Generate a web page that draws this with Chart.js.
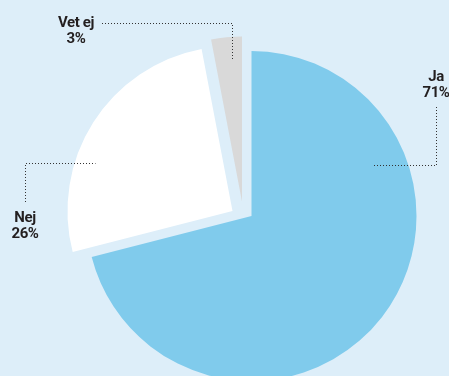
<!DOCTYPE html>
<html>
<head>
<meta charset="utf-8">
<script src="https://cdn.jsdelivr.net/npm/chart.js@4/dist/chart.umd.min.js"></script>
<style>
    html, body { margin: 0; padding: 0; background: #ddeef9; overflow: hidden; }
    #wrap { width: 449px; height: 376px; }
</style>
</head>
<body>
<div id="wrap"><canvas id="pieCanvas" width="449" height="376"></canvas></div>
<script>
// data
var categories = ['Ja', 'Nej', 'Vet ej'];
var values = [71, 26, 3];

// styles
var sliceColors = ['#80cbec', '#ffffff', '#d9d9d9'];
var sliceShift = [[0, 0], [-19, -5], [-9.5, -14.5]]; // exploded slices
// where each label sits and where its leader ends inside the slice
var labelLayout = [
    { textX: 436, textY: 81, elbow: 'vertical', lineTop: 107, t: 0.263, r: 0.80 },
    { textX: 25, textY: 222, elbow: 'vertical', lineTop: 202, t: 0.36, r: 0.88 },
    { textX: 76, textY: 27, elbow: 'horizontal', lineStart: 102, lineY: 23.5, t: 0.62, r: 0.86 }
];

var shiftPlugin = {
    id: 'sliceShift',
    afterDatasetsUpdate: function (chart) {
        var meta = chart.getDatasetMeta(0);
        meta.data.forEach(function (el, i) {
            el.x += sliceShift[i][0];
            el.y += sliceShift[i][1];
        });
    }
};

var labelPlugin = {
    id: 'leaderLabels',
    afterDatasetsDraw: function (chart) {
        var ctx = chart.ctx;
        var meta = chart.getDatasetMeta(0);
        ctx.save();
        meta.data.forEach(function (el, i) {
            var lay = labelLayout[i];
            var a = el.startAngle + lay.t * (el.endAngle - el.startAngle);
            var px = Math.round(el.x + Math.cos(a) * el.outerRadius * lay.r) + 0.5;
            var py = Math.round(el.y + Math.sin(a) * el.outerRadius * lay.r) + 0.5;

            // dotted leader line
            ctx.strokeStyle = '#333333';
            ctx.lineWidth = 1;
            ctx.setLineDash([1, 2]);
            ctx.beginPath();
            if (lay.elbow === 'vertical') {
                var lx = Math.round(lay.textX) + 0.5;
                ctx.moveTo(lx, lay.lineTop);
                ctx.lineTo(lx, py);
                ctx.lineTo(px, py);
            } else {
                ctx.moveTo(lay.lineStart, lay.lineY);
                ctx.lineTo(px, lay.lineY);
                ctx.lineTo(px, py);
            }
            ctx.stroke();

            // label text
            ctx.setLineDash([]);
            ctx.fillStyle = '#231f20';
            ctx.font = 'bold 15px Roboto';
            ctx.letterSpacing = '-0.4px';
            ctx.textAlign = 'center';
            ctx.textBaseline = 'alphabetic';
            ctx.fillText(categories[i], lay.textX, lay.textY);
            ctx.fillText(values[i] + '%', lay.textX, lay.textY + 16);
        });
        ctx.restore();
    }
};

window.onload = function () {
    var ctx = document.getElementById('pieCanvas').getContext('2d');
    window.myPie = new Chart(ctx, {
        type: 'pie',
        data: {
            labels: categories,
            datasets: [{
                data: values,
                backgroundColor: sliceColors,
                borderWidth: 0,
                clip: false
            }]
        },
        options: {
            responsive: false,
            animation: false,
            events: [],
            radius: 165,
            layout: {
                padding: { left: 54, top: 56, right: 0, bottom: 0 }
            },
            plugins: {
                legend: { display: false },
                tooltip: { enabled: false }
            }
        },
        plugins: [shiftPlugin, labelPlugin]
    });
};
</script>
</body>
</html>
